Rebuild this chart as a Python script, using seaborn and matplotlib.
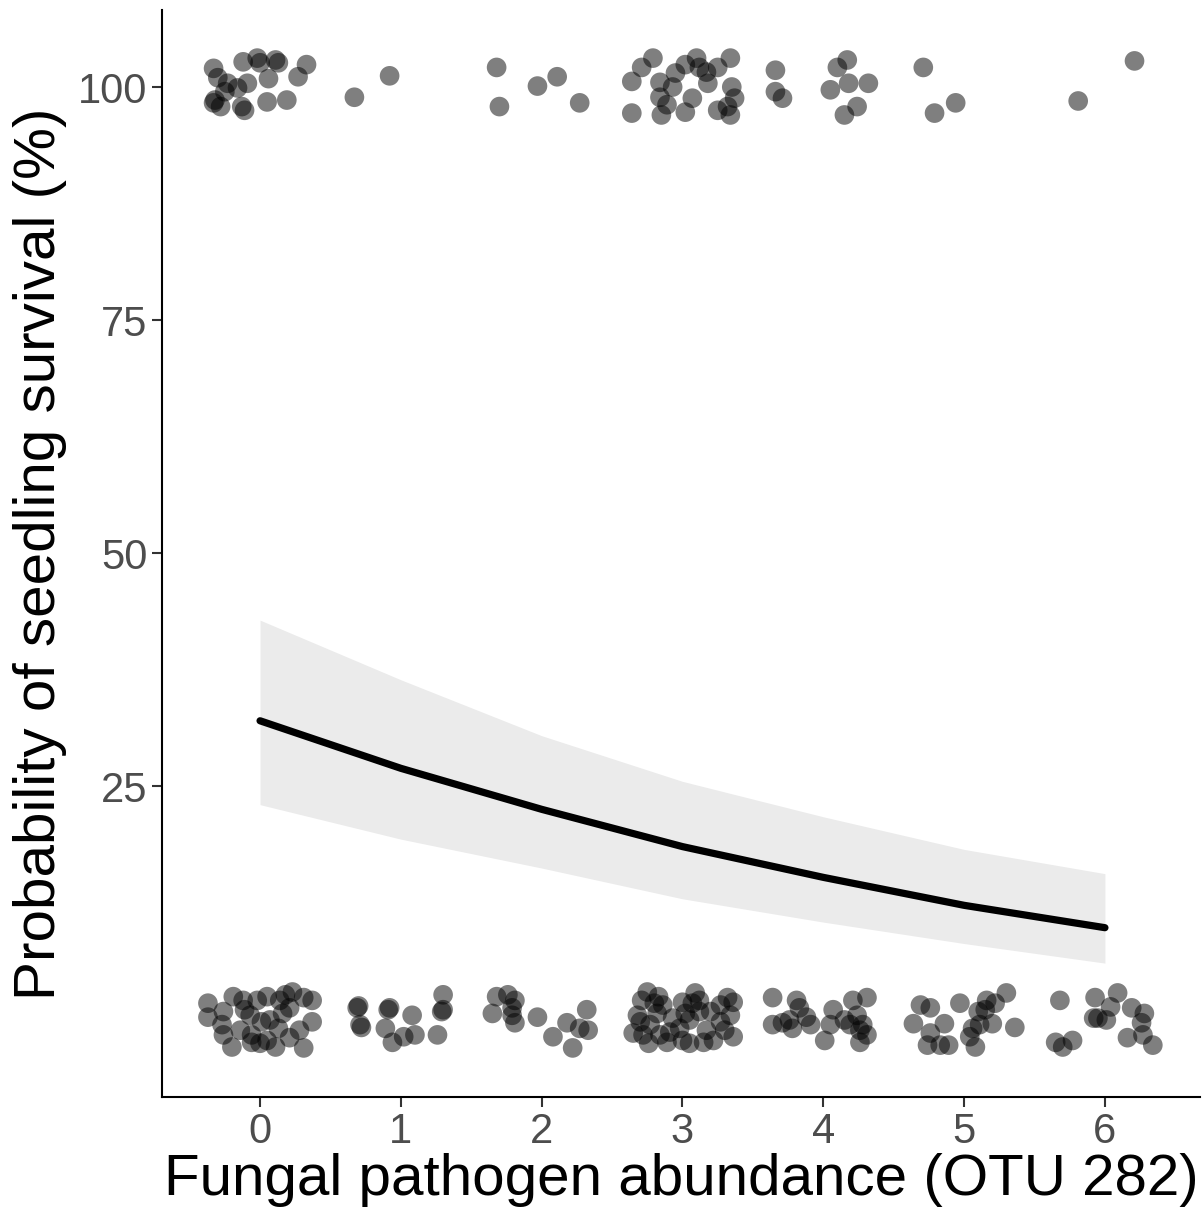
import numpy as np
import pandas as pd
import matplotlib
matplotlib.use("Agg")
import matplotlib.pyplot as plt
import seaborn as sns

# Surviving seedlings (top row, jittered around 100 %)
top_x = [-0.33, -0.30, -0.12, -0.02, 0.00, 0.11, 0.13, 0.33, 0.27, 0.06, -0.09, -0.23,
         -0.16, -0.32, -0.28, -0.13, -0.11, 0.05, 0.19, -0.25, -0.33,
         0.67, 0.92, 1.68, 1.70, 1.97, 2.11, 2.27,
         2.64, 2.71, 2.79, 2.64, 2.84, 2.84, 2.89, 2.85, 2.95, 3.02, 2.93, 3.02, 3.07,
         3.10, 3.12, 3.17, 3.18, 3.25, 3.34, 3.35, 3.37, 3.25, 3.32, 3.34,
         3.66, 3.66, 3.71, 4.17, 4.10, 4.18, 4.32, 4.05, 4.24, 4.15,
         4.71, 4.94, 4.79, 6.21, 5.81]
top_y = [102.0, 101.0, 102.7, 103.1, 102.6, 102.9, 102.6, 102.4, 101.1, 100.9, 100.4, 100.4,
         99.9, 98.6, 97.9, 97.9, 97.5, 98.4, 98.6, 99.5, 98.3,
         98.9, 101.2, 102.1, 97.9, 100.1, 101.1, 98.3,
         100.6, 102.1, 103.1, 97.2, 100.5, 98.9, 98.1, 97.0, 101.5, 102.4, 100.0, 97.3, 98.8,
         103.1, 102.1, 101.6, 100.4, 102.1, 103.1, 100.0, 98.8, 97.5, 97.9, 97.0,
         101.8, 99.5, 98.8, 102.9, 102.1, 100.4, 100.4, 99.7, 97.9, 97.0,
         102.1, 98.3, 97.2, 102.8, 98.5]

# Dead seedlings (bottom row, jittered around 0 %)
bot_x = [-0.37, -0.37, -0.26, -0.19, -0.27, -0.26, -0.20, -0.12, -0.07, -0.06, -0.02, 0.05,
         0.01, 0.05, 0.11, 0.14, 0.16, 0.21, 0.23, 0.31, 0.37, 0.37, 0.28, 0.21, 0.31,
         0.00, -0.06, -0.11, 0.07, 0.13, -0.14, 0.18,
         0.69, 0.71, 0.91, 1.08, 0.89, 0.94, 1.02, 1.10, 1.30, 1.29, 1.26, 0.70, 0.72, 0.92, 1.30,
         1.68, 1.76, 1.81, 1.65, 1.79, 1.81, 1.97, 2.32, 2.18, 2.27, 2.33, 2.08, 2.22, 1.79,
         2.71, 2.75, 2.83, 2.86, 2.68, 2.65, 2.77, 2.76, 2.72, 2.89, 2.91, 2.98, 3.00, 3.09,
         3.07, 3.02, 3.00, 3.12, 3.20, 3.17, 3.22, 3.32, 3.36, 3.34, 3.36, 3.27, 2.93, 2.82,
         3.15, 2.84, 3.05, 3.12, 2.70, 3.27, 3.05, 2.80, 3.30,
         3.64, 3.64, 3.71, 3.81, 3.83, 3.88, 3.91, 3.76, 3.78, 4.07, 4.01, 4.05, 4.19, 4.21,
         4.31, 4.24, 4.28, 4.26, 4.31, 4.15, 4.26,
         4.69, 4.76, 4.64, 4.76, 4.86, 4.74, 4.83, 4.89, 4.97, 5.10, 5.16, 5.22, 5.30, 5.06,
         5.04, 5.11, 5.20, 5.08, 5.36, 5.15,
         5.68, 5.65, 5.70, 5.77, 5.93, 6.09, 6.04, 5.92, 6.01, 6.19, 6.28, 6.26, 6.16, 6.27,
         6.34, 5.95]
bot_y = [1.7, 0.2, 0.8, 2.4, -0.6, -1.7, -3.0, 2.0, 0.4, -1.7, 2.0, 2.4,
         -0.3, -2.3, -3.0, 2.0, 0.6, 1.2, 2.9, 2.3, 2.0, -0.3, -1.2, -2.0, -3.1,
         -2.6, -2.5, 1.0, -0.1, -1.0, -1.2, 2.6,
         1.2, -0.6, 1.0, 0.4, -1.0, -2.5, -1.9, -1.7, 2.6, 0.8, -1.7, 1.4, -0.9, 1.2, 1.0,
         2.4, 2.6, 2.0, 0.6, 0.4, -0.4, 0.2, 1.0, -0.4, -1.0, -1.2, -1.9, -3.1, 1.2,
         2.0, 2.9, 2.4, 1.5, 0.4, -1.5, -0.6, -2.6, -1.7, -2.5, -1.4, -1.0, 1.8, 2.8,
         1.7, 0.6, -2.3, 0.8, 0.8, -1.2, -2.3, 2.3, 1.8, 0.4, -1.9, -0.3, 0.1, 0.6,
         -2.5, -1.7, -0.1, 2.0, -0.3, 1.5, -2.6, 1.7, -1.2,
         2.3, -0.6, -0.4, 2.0, 1.2, 0.2, -0.6, -0.1, -1.0, 1.0, -2.3, -0.6, -0.6, 2.0,
         2.3, 0.4, -0.6, -2.5, -1.7, -0.1, -1.2,
         1.5, 1.2, -0.5, -1.5, -0.5, -2.8, -2.8, -2.8, 1.7, 0.8, 2.0, 1.7, 2.8, -1.0,
         -1.9, -0.6, -0.5, -3.0, -0.9, 1.0,
         2.0, -2.5, -3.0, -2.3, 2.3, 2.8, 1.3, 0.1, -0.1, 1.2, 0.6, -0.4, -2.0, -1.7,
         -2.8, 0.1]

# Fitted curve and confidence band
fit_x = [0, 1, 2, 3, 4, 5, 6]
fit_y = [32.0, 26.9, 22.5, 18.5, 15.2, 12.2, 9.8]
fit_lo = [23.0, 19.3, 16.2, 12.9, 10.4, 8.1, 6.0]
fit_hi = [42.8, 36.4, 30.4, 25.5, 21.7, 18.2, 15.6]

x_ticks = [0, 1, 2, 3, 4, 5, 6]
y_ticks = [25, 50, 75, 100]

sns.set_theme(style="ticks")
plt.rcParams['font.family'] = ['Liberation Sans', 'DejaVu Sans']

pts = pd.DataFrame({"x": top_x + bot_x, "y": top_y + bot_y})
fit = pd.DataFrame({"x": fit_x, "y": fit_y, "lo": fit_lo, "hi": fit_hi})

fig = plt.figure(figsize=(12.03, 12.07), dpi=100)
ax = fig.add_axes([0.1347, 0.0911, 0.8628, 0.9006])

ax.fill_between(fit["x"], fit["lo"], fit["hi"], color="#EBEBEB", linewidth=0, zorder=1)
sns.lineplot(data=fit, x="x", y="y", color="black", linewidth=5.2, ax=ax, zorder=2)
sns.scatterplot(data=pts, x="x", y="y", color="black", alpha=0.5, s=200,
                edgecolor="none", ax=ax, zorder=3)

ax.set_xlim(-0.696, 6.675)
ax.set_ylim(-8.37, 108.26)
ax.set_xticks(x_ticks)
ax.set_yticks(y_ticks)
ax.set_xticklabels([str(v) for v in x_ticks])
ax.set_yticklabels([str(v) for v in y_ticks])
ax.tick_params(axis="both", labelsize=30, labelcolor="#4D4D4D", color="#333333",
               length=7, width=1.5)
ax.set_xlabel("Fungal pathogen abundance (OTU 282)", fontsize=42, color="black", labelpad=1)
ax.set_ylabel("Probability of seedling survival (%)", fontsize=42, color="black", labelpad=8)

for side in ["top", "right"]:
    ax.spines[side].set_visible(False)
for side in ["left", "bottom"]:
    ax.spines[side].set_color("black")
    ax.spines[side].set_linewidth(1.5)

fig.savefig("out.png", dpi=100, facecolor="white")
